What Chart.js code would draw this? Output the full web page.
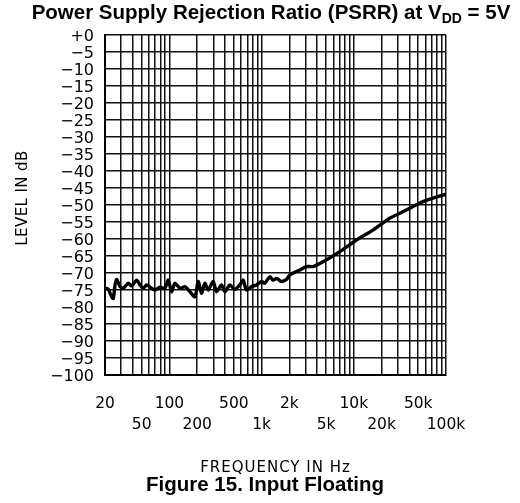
<!DOCTYPE html>
<html>
<head>
<meta charset="utf-8">
<script src="https://cdn.jsdelivr.net/npm/chart.js@4/dist/chart.umd.min.js"></script>
<style>
  html, body { margin: 0; padding: 0; background: #fff; }
  canvas { display: block; }
</style>
</head>
<body>
<canvas id="psrr" width="520" height="503"></canvas>
<script>
/* ===== PSRR vs frequency, VDD = 5V, input floating ===== */

const freqHz = [20, 21.7, 23.6, 24.6, 25.7, 26.8, 29.1, 31.6, 35.8, 38.9, 44.1, 47.9, 52, 56.6, 64, 69.6,
  78.9, 89.3, 97, 105.5, 114.7, 130, 147, 167, 189, 205, 223, 242, 263, 298, 324, 367, 399, 452, 512,
  580, 630, 685, 776, 880, 997, 1083, 1227, 1333, 1449, 1641, 1859, 2019, 2592, 3062, 3614, 4638,
  7035, 10660, 16140, 24480, 37100, 56220, 100000];
const psrrDb = [-74.5, -74.8, -77.0, -77.5, -73.5, -71.9, -74.0, -74.5, -73.0, -73.8, -72.1, -73.5, -74.5, -73.5, -74.5, -75.0,
  -74.2, -74.5, -72.1, -75.5, -73.0, -74.5, -74.0, -75.5, -77.0, -72.5, -76.0, -73.0, -75.0, -72.5, -75.5, -73.5, -75.5, -73.5, -74.8,
  -73.5, -72.1, -75.0, -74.0, -73.5, -72.5, -73.0, -71.1, -72.1, -71.6, -72.5, -71.9, -70.6, -69.1, -68.1, -68.1, -66.7,
  -63.7, -60.3, -57.4, -53.9, -51.5, -49.0, -46.8];

// axis ticks
const xTickValues = [20, 50, 100, 200, 500, 1000, 2000, 5000, 10000, 20000, 50000, 100000];
const xTickLabels = ["20", "50", "100", "200", "500", "1k", "2k", "5k", "10k", "20k", "50k", "100k"];
const decades = [10, 100, 1000, 10000];
const steps = [1, 2, 3, 4, 5, 6, 7, 8, 9];
const xGrid = decades.flatMap(d => steps.map(s => s * d)).filter(v => v >= 20).concat([100000]);

const INK = "#111";
const MONO = "'DejaVu Sans', sans-serif";
const BOLD = "bold 20.5px 'Liberation Sans', Arial, sans-serif";
const SUB = "bold 14px 'Liberation Sans', Arial, sans-serif";

// titles and axis names drawn straight on the canvas
const captions = {
  id: "captions",
  afterDraw(chart) {
    const { ctx, chartArea: a } = chart;
    const cx = (a.left + a.right) / 2;
    ctx.save();
    ctx.fillStyle = "#000";
    ctx.textBaseline = "middle";

    // main title with V subscript DD
    const p1 = "Power Supply Rejection Ratio (PSRR) at V", sub = "DD", p2 = " = 5V";
    ctx.font = BOLD;
    const w1 = ctx.measureText(p1).width, w3 = ctx.measureText(p2).width;
    ctx.font = SUB;
    const w2 = ctx.measureText(sub).width;
    const x = 271 - (w1 + w2 + w3) / 2;
    ctx.textAlign = "left";
    ctx.font = BOLD;
    ctx.fillText(p1, x, 13);
    ctx.font = SUB;
    ctx.fillText(sub, x + w1, 19);
    ctx.font = BOLD;
    ctx.fillText(p2, x + w1 + w2, 13);

    // axis names
    ctx.textAlign = "center";
    ctx.font = "15px " + MONO;
    ctx.letterSpacing = "1px";
    ctx.fillText("FREQUENCY IN Hz", cx, 468);
    ctx.letterSpacing = "0.4px";
    ctx.save();
    ctx.translate(23, 198);
    ctx.rotate(-Math.PI / 2);
    ctx.fillText("LEVEL IN dB", 0, 0);
    ctx.restore();
    ctx.letterSpacing = "0px";

    // figure caption
    ctx.font = BOLD;
    ctx.fillText("Figure 15. Input Floating", 265, 485);
    ctx.restore();
  }
};

new Chart(document.getElementById("psrr"), {
  type: "line",
  data: {
    datasets: [{
      data: freqHz.map((f, i) => ({ x: f, y: psrrDb[i] })),
      borderColor: "#000",
      borderWidth: 3.4,
      pointRadius: 0,
      tension: 0.25,
      borderJoinStyle: "round",
      borderCapStyle: "round"
    }]
  },
  options: {
    responsive: false,
    devicePixelRatio: 1,
    animation: false,
    layout: { padding: { left: 0, right: 74, top: 35, bottom: 0 } },
    plugins: { legend: { display: false }, tooltip: { enabled: false } },
    scales: {
      x: {
        type: "logarithmic",
        min: 20, max: 100000,
        afterBuildTicks: s => { s.ticks = xGrid.map(v => ({ value: v })); },
        afterFit: s => { s.height = 128; },
        grid: { color: INK, lineWidth: 1.5, drawTicks: false },
        border: { color: "#000", width: 2 },
        ticks: {
          autoSkip: false, maxRotation: 0, minRotation: 0, padding: 18,
          color: "#000",
          font: { family: MONO, size: 15.5, lineHeight: "21px" },
          callback: v => {
            const i = xTickValues.indexOf(v);
            if (i < 0) return "";
            return i % 2 ? ["", xTickLabels[i]] : [xTickLabels[i]];
          }
        }
      },
      y: {
        min: -100, max: 0,
        afterFit: s => { s.width = 105; },
        grid: { color: INK, lineWidth: 1.5, drawTicks: false },
        border: { color: "#000", width: 2 },
        ticks: {
          stepSize: 5, autoSkip: false, padding: 11, labelOffset: 2,
          color: "#000",
          font: { family: MONO, size: 16, lineHeight: 1 },
          callback: v => v === 0 ? "+0" : "\u2212" + Math.abs(v)
        }
      }
    }
  },
  plugins: [captions]
});
</script>
</body>
</html>
